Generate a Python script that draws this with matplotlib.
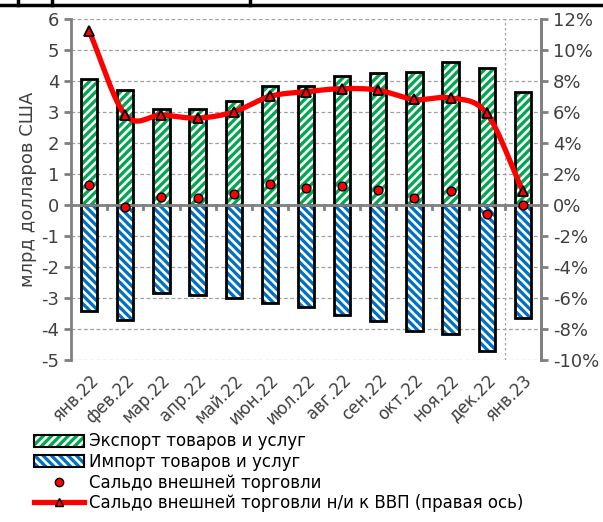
import numpy as np
import matplotlib.pyplot as plt
from matplotlib.lines import Line2D
from matplotlib.patches import Patch
from matplotlib.legend_handler import HandlerTuple

months = ['янв.22', 'фев.22', 'мар.22', 'апр.22', 'май.22', 'июн.22', 'июл.22',
          'авг.22', 'сен.22', 'окт.22', 'ноя.22', 'дек.22', 'янв.23']
export = [4.05, 3.7, 3.1, 3.1, 3.35, 3.85, 3.85, 4.15, 4.25, 4.28, 4.6, 4.4, 3.65]
imports = [-3.4, -3.7, -2.85, -2.9, -3.0, -3.15, -3.3, -3.55, -3.75, -4.05, -4.15, -4.7, -3.65]
saldo = [0.63, -0.05, 0.25, 0.22, 0.35, 0.68, 0.55, 0.6, 0.47, 0.22, 0.45, -0.3, 0.0]
saldo_gdp = [11.2, 5.8, 5.8, 5.6, 6.0, 7.0, 7.3, 7.5, 7.4, 6.8, 6.9, 5.9, 0.9]

plt.rcParams['font.family'] = ['DejaVu Sans']
plt.rcParams['hatch.linewidth'] = 1.9
plt.rcParams['axes.unicode_minus'] = False
grey = '#808080'
txt = '#404040'
green = '#00A650'
blue = '#0070C0'


def smooth(x, y, n=20):
    # catmull-rom curve through the points (like Excel smoothed line)
    x = np.asarray(x, float)
    y = np.asarray(y, float)
    px = np.concatenate([[2 * x[0] - x[1]], x, [2 * x[-1] - x[-2]]])
    py = np.concatenate([[2 * y[0] - y[1]], y, [2 * y[-1] - y[-2]]])
    xs, ys = [], []
    t = np.linspace(0, 1, n)
    for i in range(1, len(px) - 2):
        for p, out in ((px, xs), (py, ys)):
            p0, p1, p2, p3 = p[i - 1], p[i], p[i + 1], p[i + 2]
            out.extend(0.5 * (2 * p1 + (-p0 + p2) * t + (2 * p0 - 5 * p1 + 4 * p2 - p3) * t ** 2
                              + (-p0 + 3 * p1 - 3 * p2 + p3) * t ** 3))
    return np.array(xs), np.array(ys)


fig = plt.figure(figsize=(6.03, 5.22), dpi=100)
ax = fig.add_axes([0.118, 0.31, 0.779, 0.654])
x = np.arange(len(months))
w = 0.45

ax.bar(x, export, w, color=green, edgecolor='white', hatch='////', linewidth=0, zorder=2)
ax.bar(x, imports, w, color=blue, edgecolor='white', hatch='\\\\\\\\', linewidth=0, zorder=2)
ax.bar(x, export, w, color='none', edgecolor='black', linewidth=2, zorder=3)
ax.bar(x, imports, w, color='none', edgecolor='black', linewidth=2, zorder=3)
ax.scatter(x, saldo, s=40, color='red', edgecolor='black', linewidth=1, zorder=6)

ax.set_xlim(-0.5, 12.5)
ax.set_ylim(-5, 6)
ax.set_yticks(range(-5, 7))
ax.yaxis.grid(True, linestyle=(0, (3, 2)), color='#A0A0A0', linewidth=0.9)
ax.axvline(11.5, linestyle=(0, (2, 2)), color='#A0A0A0', linewidth=0.9)
ax.set_axisbelow(True)
ax.axhline(0, color=grey, linewidth=2, zorder=4)

for s in ['top', 'bottom']:
    ax.spines[s].set_visible(False)
for s in ['left', 'right']:
    ax.spines[s].set_color(grey)
    ax.spines[s].set_linewidth(2)

ax.set_xticks(x)
ax.set_xticklabels(months, rotation=45, ha='right', rotation_mode='anchor', fontsize=12, color=txt)
ax.tick_params(axis='x', length=0, pad=8)
ax.tick_params(axis='y', labelsize=13, colors=txt, length=5, width=2, color=grey)
ax.set_ylabel('млрд долларов США', fontsize=13, color=txt, labelpad=3)

# small ticks on the zero line between categories
for xm in np.arange(0.5, 12, 1):
    ax.plot([xm, xm], [0, -0.12], color=grey, linewidth=2, zorder=4, clip_on=False)

ax2 = ax.twinx()
ax2.set_ylim(-10, 12)
ax2.set_yticks(range(-10, 13, 2))
ax2.set_yticklabels([f'{v}%' for v in range(-10, 13, 2)])
ax2.tick_params(axis='y', labelsize=13, colors=txt, length=5, width=2, color=grey)
for s in ['top', 'bottom', 'left']:
    ax2.spines[s].set_visible(False)
ax2.spines['right'].set_color(grey)
ax2.spines['right'].set_linewidth(2)

sx, sy = smooth(x, saldo_gdp)
ax2.plot(sx, sy, color='red', linewidth=3.8, solid_capstyle='round', zorder=5)
ax2.plot(x, saldo_gdp, linestyle='none', marker='^', markersize=7, markerfacecolor='red',
         markeredgecolor='black', markeredgewidth=1.3, zorder=6)

h_exp = (Patch(facecolor=green, edgecolor='white', hatch='////', linewidth=0),
         Patch(facecolor='none', edgecolor='black', linewidth=1.5))
h_imp = (Patch(facecolor=blue, edgecolor='white', hatch='\\\\\\\\', linewidth=0),
         Patch(facecolor='none', edgecolor='black', linewidth=1.5))
handles = [
    h_exp, h_imp,
    Line2D([], [], linestyle='none', marker='o', markersize=6, markerfacecolor='red', markeredgecolor='black'),
    Line2D([], [], color='red', linewidth=3.8, marker='^', markersize=6, markerfacecolor='red',
           markeredgecolor='black'),
]
labels = ['Экспорт товаров и услуг', 'Импорт товаров и услуг', 'Сальдо внешней торговли',
          'Сальдо внешней торговли н/и к ВВП (правая ось)']
fig.legend(handles, labels, loc='lower left', bbox_to_anchor=(0.04, 0.0), frameon=False,
           fontsize=12, handlelength=3.0, handletextpad=0.3, labelspacing=0.15, borderaxespad=0.2,
           handler_map={tuple: HandlerTuple(ndivide=1)})

# frame line at the top of the picture
fig.add_artist(Line2D([0, 1], [0.991, 0.991], color='black', linewidth=2.5))
for xf in [18, 52, 250]:
    fig.add_artist(Line2D([xf / 603, xf / 603], [0.991, 1.0], color='black', linewidth=2.5))

fig.savefig('out.png', dpi=100)
